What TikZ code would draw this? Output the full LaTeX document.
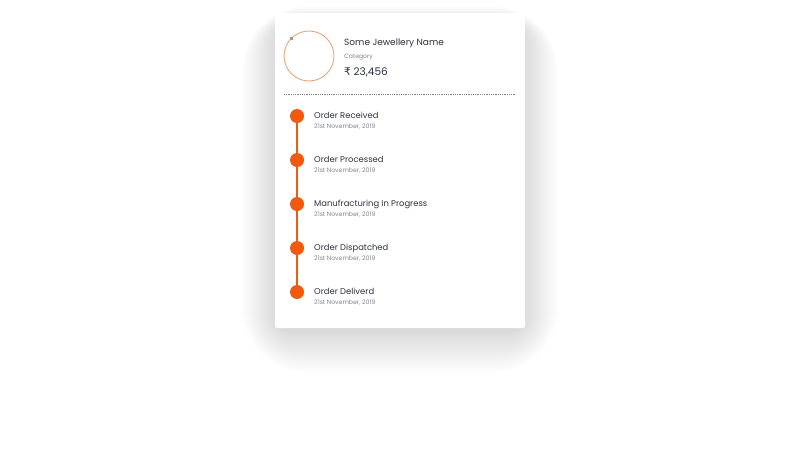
\documentclass[tikz,border=0pt]{standalone}
\usepackage{fontspec}
\setmainfont{Poppins}
\newfontfamily\rupeefont{DejaVu Sans}

\definecolor{accent}{RGB}{240,90,15}
\definecolor{ink}{RGB}{45,50,62}
\definecolor{muted}{RGB}{130,133,140}
\definecolor{ring}{RGB}{232,165,120}

\tikzset{
  itemtitle/.style={anchor=base west,inner sep=0pt,text=ink,font=\fontsize{8.4}{10}\selectfont},
  itemdate/.style={anchor=base west,inner sep=0pt,text=muted,font=\fontsize{6.2}{8}\selectfont},
  stepdot/.style={circle,fill=accent,minimum size=14pt,inner sep=0pt}
}

\begin{document}
\begin{tikzpicture}[x=1pt,y=1pt,yscale=-1]
\useasboundingbox (0,0) rectangle (800,450);
\fill[white] (0,0) rectangle (800,450);

%soft shadow under the card
\foreach \i in {0,...,39}
  \fill[black,fill opacity=0.0045,rounded corners=8+\i*1.5]
    ({280-\i*1.0},{24-\i*0.45}) rectangle ({520+\i*1.0},{328+\i*1.15});

%card
\fill[white,rounded corners=2] (275,13) rectangle (525,328);

%product picture
\node (pic) [circle,draw=ring,line width=0.9pt,minimum size=50pt,inner sep=0pt] at (309,56) {};
\fill[black!40] (289.5,36.5) rectangle (292.5,39.5);

\node (name) [anchor=base west,inner sep=0pt,text=ink,font=\fontsize{9}{11}\selectfont] at (344,45.5) {Some Jewellery Name};
\node (cat) [anchor=base west,inner sep=0pt,text=muted,font=\fontsize{6.1}{8}\selectfont] at (344,58.5) {Category};
\node (price) [anchor=base west,inner sep=0pt,text=ink,font=\fontsize{10.5}{13}\selectfont] at (344,75) {{\rupeefont ₹} 23,456};

%dotted divider
\coordinate (divl) at (284,94);
\coordinate (divr) at (516,94);
\draw[black!50,line width=0.8pt,dash pattern=on 0.9pt off 0.9pt] (divl) -- (divr);

%timeline
\foreach \t [count=\n] in {Order Received,Order Processed,Manufracturing In Progress,Order Dispatched,Order Deliverd}{
  \node (dot\n) [stepdot] at (297,{116+(\n-1)*44}) {};
  \node (step\n) [itemtitle] at (314,{118.5+(\n-1)*44}) {\t};
  \node (date\n) [itemdate] at (314,{128+(\n-1)*44}) {21st November, 2019};
}
\draw[accent,line width=1.5pt] (dot1) -- (dot2) -- (dot3) -- (dot4) -- (dot5);

\end{tikzpicture}
\end{document}
